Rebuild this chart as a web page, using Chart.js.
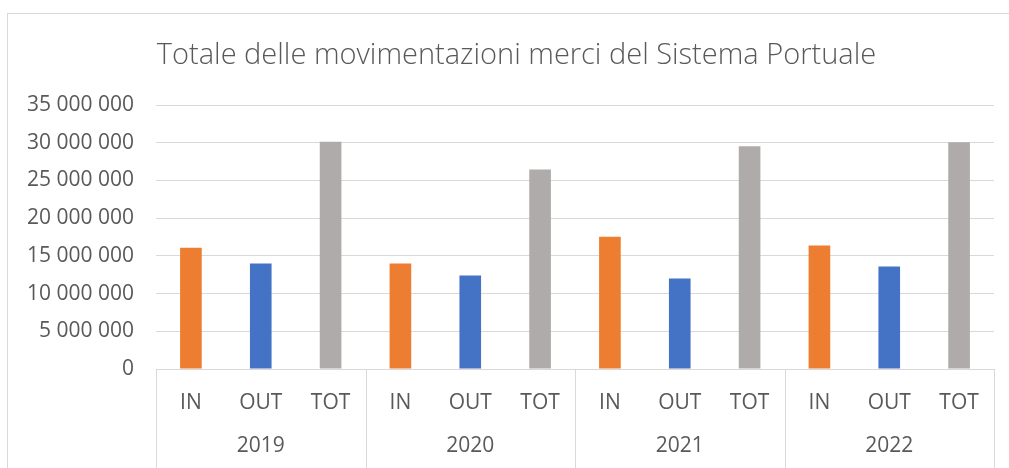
<!DOCTYPE html>
<html><head><meta charset="utf-8">
<script src="https://cdn.jsdelivr.net/npm/chart.js@4"></script>
<style>html,body{margin:0;padding:0;background:#fff;overflow:hidden}#wrap{position:relative;width:1009px;height:468px}</style>
</head><body><div id="wrap"><canvas id="c" width="1009" height="468"></canvas></div>
<script>
const titleText = 'Totale delle movimentazioni merci del Sistema Portuale';
const years = ['2019', '2020', '2021', '2022'];
const flows = ['IN', 'OUT', 'TOT'];
const inValues = [16070000, 14000000, 17530000, 16370000];
const outValues = [13980000, 12390000, 12000000, 13580000];
const totValues = [30140000, 26460000, 29520000, 30050000];
const flowColors = ['#ED7D31', '#4472C4', '#AFABAB'];
const yTickValues = [0, 5000000, 10000000, 15000000, 20000000, 25000000, 30000000, 35000000];

const labels = [], values = [], colors = [];
years.forEach((y, i) => {
  [inValues[i], outValues[i], totValues[i]].forEach((v, k) => {
    labels.push(flows[k]); values.push(v); colors.push(flowColors[k]);
  });
});

const TXT = '#595959', GRID = '#d9d9d9';
const fmt = v => String(v).replace(/\B(?=(\d{3})+(?!\d))/g, ' ');

const deco = {
  id: 'deco',
  beforeDraw(chart) {
    const ctx = chart.ctx;
    ctx.save();
    ctx.strokeStyle = GRID; ctx.lineWidth = 1;
    ctx.strokeRect(7.5, 13.5, 1100, 600);
    ctx.fillStyle = TXT;
    ctx.font = '300 29px "Open Sans"';
    ctx.textAlign = 'center'; ctx.textBaseline = 'alphabetic';
    ctx.fillText(titleText, 516.5, 64);
    ctx.restore();
  },
  afterDraw(chart) {
    const ctx = chart.ctx, xs = chart.scales.x, a = chart.chartArea;
    ctx.save();
    ctx.strokeStyle = GRID; ctx.lineWidth = 1;
    for (let g = 0; g <= years.length; g++) {
      const x = Math.round(xs.getPixelForValue(g * 3 - 0.5)) + 0.5;
      ctx.beginPath(); ctx.moveTo(x, a.bottom); ctx.lineTo(x, 468); ctx.stroke();
    }
    ctx.fillStyle = TXT; ctx.font = '21px "Open Sans"';
    ctx.textAlign = 'center'; ctx.textBaseline = 'middle';
    years.forEach((y, g) => ctx.fillText(y, xs.getPixelForValue(g * 3 + 1), 446));
    ctx.restore();
  }
};

new Chart(document.getElementById('c'), {
  type: 'bar',
  data: { labels, datasets: [{ data: values, backgroundColor: colors, borderWidth: 0, categoryPercentage: 1, barPercentage: 0.31 }] },
  options: {
    responsive: false, animation: false,
    layout: { padding: { top: 105, left: 0, right: 15, bottom: 0 } },
    plugins: { legend: { display: false }, tooltip: { enabled: false }, title: { display: false } },
    scales: {
      y: {
        min: 0, max: 35000000,
        afterBuildTicks: s => { s.ticks = yTickValues.map(v => ({ value: v })); },
        afterFit: s => { s.width = 156; },
        ticks: { callback: v => fmt(v), color: TXT, font: { family: 'Open Sans', size: 21 }, padding: 22 },
        grid: { color: GRID, lineWidth: 1, drawTicks: false },
        border: { display: false }
      },
      x: {
        afterFit: s => { s.height = 99; },
        ticks: { color: TXT, font: { family: 'Open Sans', size: 21 }, padding: 21, maxRotation: 0, autoSkip: false },
        grid: { display: false, drawTicks: false },
        border: { display: true, color: GRID, width: 1 }
      }
    }
  },
  plugins: [deco]
});
</script></body></html>
